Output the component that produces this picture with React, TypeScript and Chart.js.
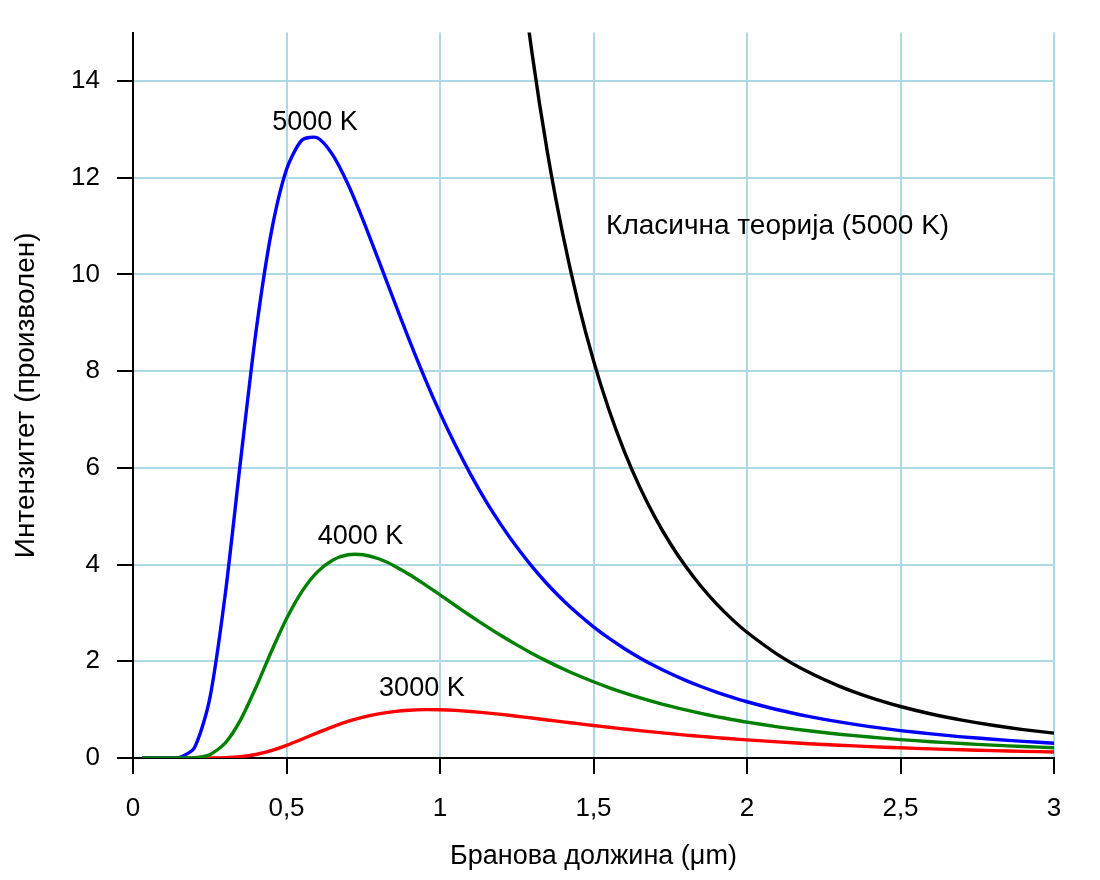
import React, { useEffect, useRef } from 'react';
import { Chart, registerables } from 'chart.js';

Chart.register(...registerables);

// Wavelength samples (µm)
const wavelengths = [
  0.03, 0.05, 0.1, 0.15, 0.2, 0.25, 0.3, 0.35, 0.4, 0.45, 0.5, 0.55, 0.6, 0.65, 0.7, 0.75, 0.8,
  0.85, 0.9, 0.95, 1.0, 1.05, 1.1, 1.15, 1.2, 1.25, 1.3, 1.35, 1.4, 1.45, 1.5, 1.55, 1.6, 1.65,
  1.7, 1.75, 1.8, 1.85, 1.9, 1.95, 2.0, 2.1, 2.2, 2.3, 2.4, 2.5, 2.6, 2.7, 2.8, 2.9, 3.0,
];

const intensity5000 = [
  0, 0, 0, 0.007, 0.211, 1.229, 3.363, 6.125, 8.786, 10.853, 12.168, 12.773, 12.825, 12.477,
  11.868, 11.114, 10.293, 9.46, 8.641, 7.862, 7.137, 6.47, 5.861, 5.308, 4.81, 4.361, 3.957,
  3.593, 3.268, 2.976, 2.713, 2.477, 2.265, 2.074, 1.901, 1.746, 1.605, 1.478, 1.363, 1.258,
  1.163, 0.998, 0.861, 0.746, 0.649, 0.567, 0.498, 0.438, 0.388, 0.344, 0.306,
];

const intensity4000 = [
  0, 0, 0, 0, 0.006, 0.069, 0.306, 0.784, 1.454, 2.193, 2.879, 3.44, 3.844, 4.091, 4.202, 4.202,
  4.12, 3.977, 3.795, 3.59, 3.373, 3.153, 2.936, 2.727, 2.527, 2.339, 2.162, 1.998, 1.846, 1.705,
  1.576, 1.457, 1.348, 1.248, 1.155, 1.071, 0.994, 0.922, 0.857, 0.797, 0.742, 0.645, 0.563,
  0.492, 0.433, 0.381, 0.337, 0.299, 0.266, 0.238, 0.213,
];

const intensity3000 = [
  0, 0, 0, 0, 0, 0.001, 0.006, 0.026, 0.073, 0.153, 0.262, 0.388, 0.52, 0.645, 0.755, 0.844,
  0.912, 0.96, 0.988, 1.0, 0.997, 0.984, 0.962, 0.934, 0.901, 0.864, 0.826, 0.787, 0.748, 0.71,
  0.672, 0.635, 0.6, 0.566, 0.534, 0.503, 0.474, 0.447, 0.421, 0.397, 0.374, 0.333, 0.296,
  0.264, 0.236, 0.211, 0.189, 0.17, 0.153, 0.138, 0.125,
];

const classical5000 = [
  null, null, null, null, null, null, null, null, null, null, null, null, null, null, null, null,
  null, null, null, null, null, null, null, null, 20.06, 17.04, 14.57, 12.52, 10.83, 9.41, 8.217,
  7.207, 6.348, 5.612, 4.981, 4.435, 3.963, 3.551, 3.192, 2.877, 2.6, 2.139, 1.776, 1.487, 1.254,
  1.065, 0.91, 0.783, 0.677, 0.588, 0.514,
];

const xTickLabels = ['0', '0,5', '1', '1,5', '2', '2,5', '3'];
const yTickLabels = ['0', '2', '4', '6', '8', '10', '12', '14'];

const curveLabels = ['5000 K', '4000 K', '3000 K', 'Класична теорија (5000 K)'];
const curveLabelX = [0.593, 0.741, 0.941, 1.541];
const curveLabelY = [13.13, 4.58, 1.44, 10.99];

const xTitle = 'Бранова должина (μm)';
const yTitle = 'Интензитет (произволен)';

const FONT = '"Liberation Sans", Arial, sans-serif';

const toPoints = (ys: (number | null)[]) => wavelengths.map((x, i) => ({ x, y: ys[i] }));

const labelPlugin = {
  id: 'curveLabels',
  afterDatasetsDraw(chart: any) {
    const { ctx, scales } = chart;
    const xs = scales.x;
    const ys = scales.y;
    ctx.save();
    ctx.fillStyle = '#000';
    ctx.textBaseline = 'middle';
    curveLabels.forEach((t, i) => {
      ctx.font = `${i === 3 ? 28 : 27}px ${FONT}`;
      ctx.textAlign = i === 3 ? 'left' : 'center';
      ctx.fillText(t, xs.getPixelForValue(curveLabelX[i]), ys.getPixelForValue(curveLabelY[i]));
    });
    ctx.restore();
  },
};

export default function App() {
  const ref = useRef<HTMLCanvasElement | null>(null);

  useEffect(() => {
    if (!ref.current) return;
    const line = (label: string, ys: (number | null)[], color: string) => ({
      label,
      data: toPoints(ys),
      borderColor: color,
      backgroundColor: color,
      borderWidth: 3.4,
      pointRadius: 0,
      tension: 0.25,
      fill: false,
    });
    const chart = new Chart(ref.current, {
      type: 'line',
      data: {
        datasets: [
          line('4000 K', intensity4000, '#008000'),
          line('5000 K', intensity5000, '#0000ff'),
          line('3000 K', intensity3000, '#ff0000'),
          line('Класична теорија (5000 K)', classical5000, '#000000'),
        ],
      },
      options: {
        animation: false,
        responsive: false,
        maintainAspectRatio: false,
        layout: { padding: { top: 31, right: 46, left: 0, bottom: 0 } },
        plugins: {
          legend: { display: false },
          tooltip: { enabled: false },
        },
        scales: {
          x: {
            type: 'linear',
            min: 0,
            max: 3,
            ticks: {
              stepSize: 0.5,
              color: '#000',
              padding: 19,
              font: { family: FONT, size: 26 },
              maxRotation: 0,
              callback: (_v: any, i: number) => xTickLabels[i],
            },
            grid: {
              color: '#add8e6',
              lineWidth: 2,
              tickColor: '#000',
              tickLength: 16,
              tickWidth: 2,
            },
            border: { color: '#000', width: 2 },
            title: {
              display: true,
              text: xTitle,
              color: '#000',
              font: { family: FONT, size: 27 },
              padding: { top: 0, bottom: 7 },
            },
            afterFit: (s: any) => {
              s.height = 122;
            },
          },
          y: {
            type: 'linear',
            min: 0,
            max: 15,
            ticks: {
              stepSize: 2,
              includeBounds: false,
              color: '#000',
              padding: 17,
              font: { family: FONT, size: 26 },
              callback: (_v: any, i: number) => yTickLabels[i],
            },
            grid: {
              color: '#add8e6',
              lineWidth: 2,
              tickColor: '#000',
              tickLength: 16,
              tickWidth: 2,
            },
            border: { color: '#000', width: 2 },
            title: {
              display: true,
              text: yTitle,
              color: '#000',
              font: { family: FONT, size: 28 },
              padding: { top: 9, bottom: 0 },
            },
            afterFit: (s: any) => {
              s.width = 133;
            },
          },
        },
      },
      plugins: [labelPlugin],
    });
    return () => chart.destroy();
  }, []);

  return (
    <div style={{ position: 'absolute', left: 0, top: 0, width: 1100, height: 880, background: '#fff' }}>
      <canvas ref={ref} width={1100} height={880} style={{ width: 1100, height: 880, display: 'block' }} />
    </div>
  );
}
